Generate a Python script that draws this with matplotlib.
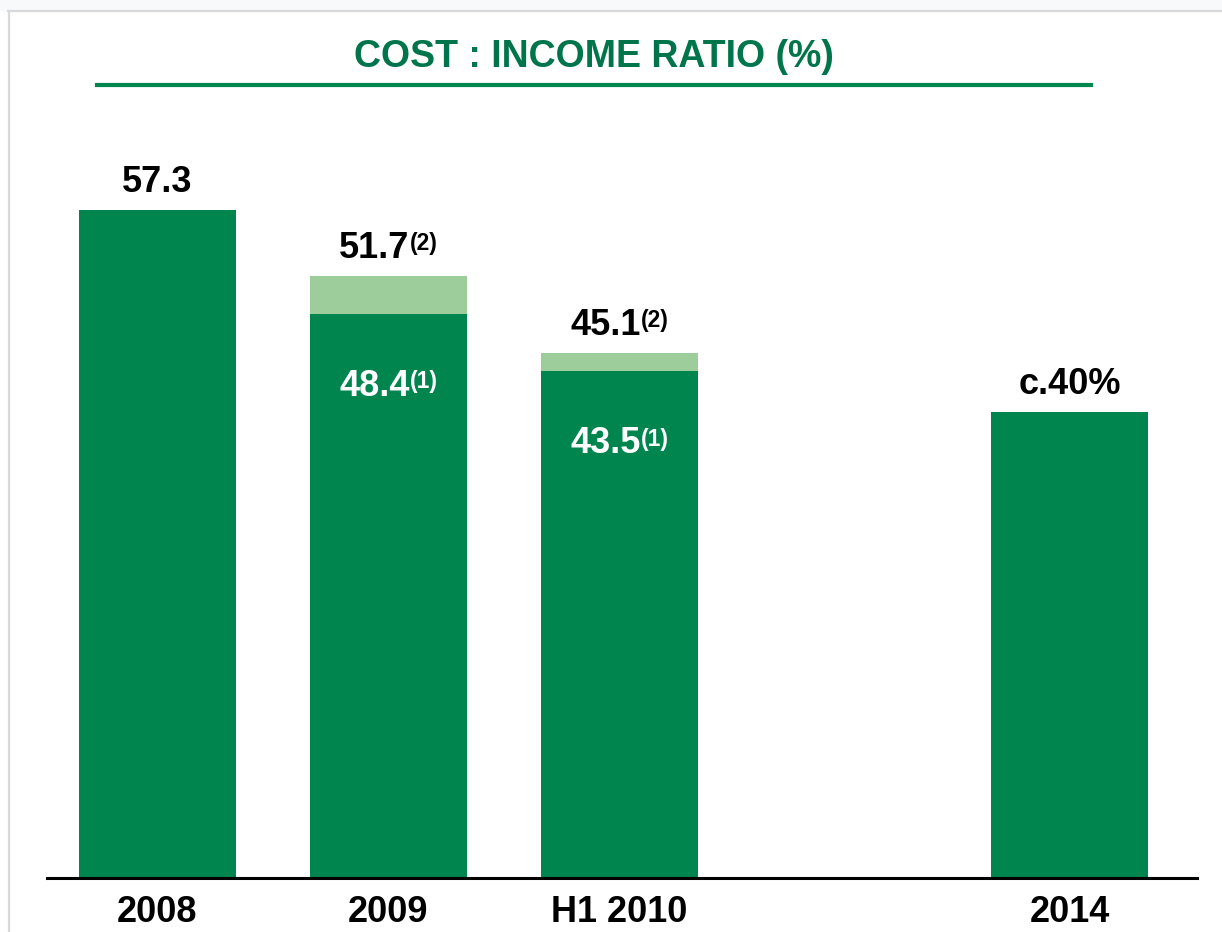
import matplotlib

matplotlib.use("Agg")
import matplotlib.pyplot as plt
from matplotlib.lines import Line2D
from matplotlib.patches import Rectangle

plt.rcParams["font.family"] = ["Liberation Sans", "DejaVu Sans"]

# cost : income ratio per period
periods = ["2008", "2009", "H1 2010", "2014"]
slots = [0, 1, 2, 3.95]
underlying = [57.3, 48.4, 43.5, 40.0]   # dark bars (note 1 basis)
reported = [57.3, 51.7, 45.1, 40.0]     # top of light segment (note 2 basis)
top_labels = ["57.3", "51.7", "45.1", "c.40%"]
top_notes = [None, "(2)", "(2)", None]
inner_labels = [None, "48.4", "43.5", None]
inner_notes = [None, "(1)", "(1)", None]

DARK = "#00854f"
LIGHT = "#9dcd9a"
TITLE_GREEN = "#00744b"

W, H = 1222, 932
DPI = 100
fig = plt.figure(figsize=(W / DPI, H / DPI), dpi=DPI)

# faint frame around the slide panel
fig.patches.append(Rectangle((0, 1 - 10 / H), 1, 10 / H, transform=fig.transFigure,
                             color="#f7f9fb", zorder=0))
fig.lines.append(Line2D([8 / W, 1], [1 - 11 / H] * 2, transform=fig.transFigure,
                        color="#d9d9d9", lw=1.6))
fig.lines.append(Line2D([9 / W] * 2, [0, 1 - 11 / H], transform=fig.transFigure,
                        color="#d9d9d9", lw=1.6))

fig.text(594 / W, 1 - 67 / H, "COST : INCOME RATIO (%)", ha="center", va="baseline",
         fontsize=27, fontweight="bold", color=TITLE_GREEN)
fig.lines.append(Line2D([97 / W, 1091 / W], [1 - 85 / H] * 2, transform=fig.transFigure,
                        color="#00884f", lw=3))

ax = fig.add_axes([47 / W, 54 / H, (1197 - 47) / W, (878 - 120) / H])
ax.set_xlim(-0.478, 4.5)
ax.set_ylim(0, 758 / 11.65)

bar_w = 0.68
ax.bar(slots, underlying, width=bar_w, color=DARK, zorder=2)
extra = [r - u for r, u in zip(reported, underlying)]
ax.bar(slots, extra, bottom=underlying, width=bar_w, color=LIGHT, zorder=2)

renderer = fig.canvas.get_renderer()


def value_label(x, y, text, note, dy, color):
    """Bold value with an optional footnote marker, centred as one block."""
    main = ax.annotate(text, (x, y), xytext=(0, dy), textcoords="offset points",
                       ha="center", va="baseline", fontsize=26,
                       fontweight="bold", color=color, zorder=4)
    if note is None:
        return
    sup = ax.annotate(note, (1, 1), xycoords=main, xytext=(0, -1),
                      textcoords="offset points", ha="left", va="top",
                      fontsize=16.5, fontweight="bold", color=color, zorder=4)
    shift = sup.get_window_extent(renderer).width / 2 * 72 / DPI
    main.set_position((-shift, dy))


for x, top, txt, note in zip(slots, reported, top_labels, top_notes):
    value_label(x, top, txt, note, 13, "black")

for x, val, txt, note in zip(slots, underlying, inner_labels, inner_notes):
    if txt is not None:
        value_label(x, val, txt, note, -59, "white")

for side in ("top", "right", "left"):
    ax.spines[side].set_visible(False)
ax.spines["bottom"].set_linewidth(2.2)
ax.spines["bottom"].set_color("black")
ax.spines["bottom"].set_zorder(3)
ax.set_yticks([])
ax.set_xticks(slots, periods)
ax.tick_params(axis="x", length=0, pad=12)
for t in ax.get_xticklabels():
    t.set_fontsize(26)
    t.set_fontweight("bold")

fig.savefig("out.png", dpi=DPI)
